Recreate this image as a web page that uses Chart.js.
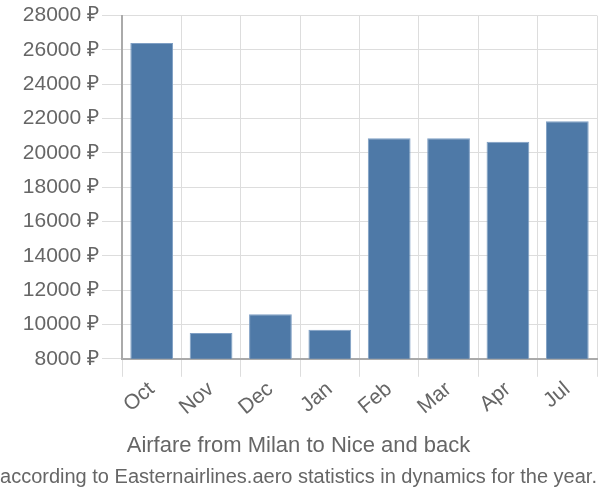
<!DOCTYPE html>
<html>
<head>
<meta charset="utf-8">
<script src="https://cdn.jsdelivr.net/npm/chart.js@4/dist/chart.umd.min.js"></script>
<style>
  html, body { margin: 0; padding: 0; background: #fff; }
  #wrap { width: 600px; height: 500px; }
</style>
</head>
<body>
<div id="wrap"><canvas id="grafico"></canvas></div>
<script>
// meses e precos (rublos)
const meses = ['Oct', 'Nov', 'Dec', 'Jan', 'Feb', 'Mar', 'Apr', 'Jul'];
const precos = [26400, 9500, 10600, 9700, 20850, 20850, 20650, 21850];

const eixoMin = 8000;
const eixoMax = 28000;
const passo = 2000;

const titulo = 'Airfare from Milan to Nice and back';
const subtitulo = 'according to Easternairlines.aero statistics in dynamics for the year.';

const cinza = '#666';
const fonte = "'Liberation Sans', Arial, sans-serif";

// no Chart.js, com position 'bottom' o subtitle fica mais perto do grafico,
// entao o titulo principal vai no subtitle e a segunda linha no title
const grafico = new Chart(document.getElementById('grafico'), {
    type: 'bar',
    data: {
        labels: meses,
        datasets: [{
            data: precos,
            backgroundColor: '#4e79a7',
            borderColor: '#7f9fc4',
            borderWidth: 1,
            barPercentage: 0.72,
            categoryPercentage: 1
        }]
    },
    options: {
        responsive: true,
        maintainAspectRatio: false,
        animation: false,
        layout: { padding: { left: 0, right: 3, top: 15, bottom: 0 } },
        plugins: {
            legend: { display: false },
            tooltip: { enabled: false },
            subtitle: {
                display: true,
                position: 'bottom',
                text: titulo,
                color: cinza,
                font: { family: fonte, size: 22, weight: 'normal', lineHeight: 1.1 },
                padding: { top: 20, bottom: 0 }
            },
            title: {
                display: true,
                position: 'bottom',
                text: subtitulo,
                color: cinza,
                font: { family: fonte, size: 20, weight: 'normal', lineHeight: 1.1 },
                padding: { top: 8, bottom: 12 }
            }
        },
        scales: {
            x: {
                grid: { color: '#ddd', tickLength: 18, offset: true },
                border: { color: '#aaa', width: 2 },
                ticks: {
                    color: cinza,
                    font: { family: fonte, size: 21 },
                    maxRotation: 40,
                    minRotation: 40,
                    padding: 0
                },
                afterFit: s => { s.height = 55; }
            },
            y: {
                min: eixoMin,
                max: eixoMax,
                grid: { color: '#ddd', tickLength: 20 },
                border: { color: '#aaa', width: 2 },
                ticks: {
                    stepSize: passo,
                    color: cinza,
                    font: { family: fonte, size: 21 },
                    padding: 3,
                    callback: v => v + ' ₽'
                },
                afterFit: s => { s.width = 122; }
            }
        }
    }
});
</script>
</body>
</html>
